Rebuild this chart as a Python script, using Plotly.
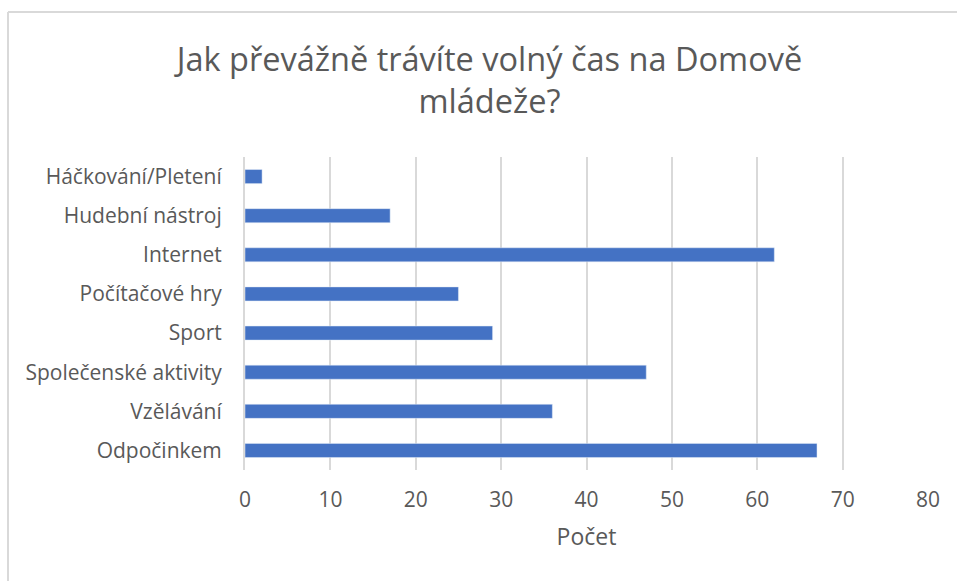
import plotly.graph_objects as go

categories = ["Háčkování/Pletení", "Hudební nástroj", "Internet", "Počítačové hry",
              "Sport", "Společenské aktivity", "Vzělávání", "Odpočinkem"]
values = [2, 17, 62, 25, 29, 47, 36, 67]
x_ticks = [0, 10, 20, 30, 40, 50, 60, 70, 80]

FONT = "Open Sans"
GREY = "#595959"

fig = go.Figure(go.Bar(
    x=values, y=categories, orientation="h",
    marker=dict(color="#4472C4"),
    hoverinfo="skip",
))

fig.update_layout(
    width=957, height=581,
    margin=dict(l=245, r=29, t=157, b=111),
    paper_bgcolor="white", plot_bgcolor="white",
    bargap=0.64,
    showlegend=False,
    font=dict(family=FONT, color=GREY),
    title=dict(
        text="Jak převážně trávíte volný čas na Domově<br>mládeže?",
        x=0.5115, xanchor="center", xref="container",
        y=0.878, yanchor="top",
        font=dict(size=32.5, color=GREY, family=FONT),
    ),
    xaxis=dict(
        range=[0, 80], tickvals=x_ticks, ticktext=[str(t) for t in x_ticks],
        showgrid=True, gridcolor="#d9d9d9", gridwidth=2,
        zeroline=False, showline=False,
        tickfont=dict(size=21, color=GREY),
        ticks="", ticklabelstandoff=15,
        title=dict(text="Počet", font=dict(size=23, color=GREY), standoff=16),
    ),
    yaxis=dict(
        autorange="reversed",
        showgrid=False, zeroline=False,
        showline=True, linecolor="#d9d9d9", linewidth=2,
        tickfont=dict(size=21, color=GREY),
        ticks="", ticklabelstandoff=17,
    ),
    shapes=[
        dict(type="line", xref="paper", yref="paper",
             x0=(8 - 245) / 683, x1=1.2, y0=(470 - 12) / 313, y1=(470 - 12) / 313,
             line=dict(color="#d9d9d9", width=2)),
        dict(type="line", xref="paper", yref="paper",
             x0=(8 - 245) / 683, x1=(8 - 245) / 683, y0=(470 - 12) / 313, y1=-0.5,
             line=dict(color="#d9d9d9", width=2)),
    ],
)

fig.write_html("out.html", config={"displayModeBar": False},
               post_script="document.body.style.margin='0';")
